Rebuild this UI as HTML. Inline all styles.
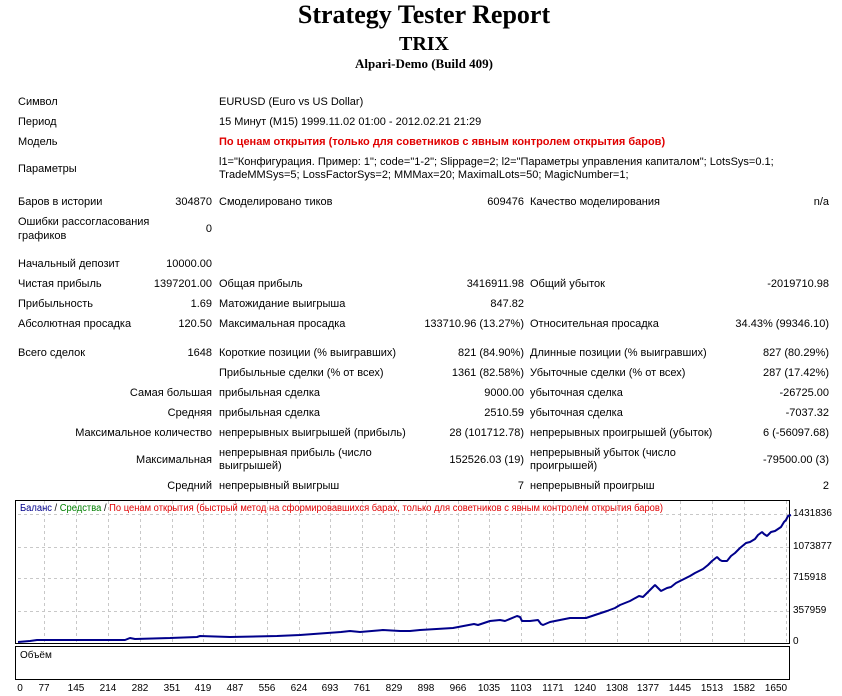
<!DOCTYPE html>
<html><head><meta charset="utf-8">
<style>
body{margin:0;width:842px;height:696px;background:#fff;position:relative;overflow:hidden;font-family:"Liberation Sans","DejaVu Sans",sans-serif;font-size:11px;color:#000}
.t{position:absolute;white-space:nowrap;line-height:13px}
.r{text-align:right}
.h{position:absolute;left:0;width:842px;text-align:center;font-family:"Liberation Serif",serif;font-weight:bold;white-space:nowrap}
</style></head><body>
<div class="h" style="top:0px;font-size:26px;line-height:30px;left:3px">Strategy Tester Report</div>
<div class="h" style="top:32px;font-size:20px;line-height:24px;left:3px">TRIX</div>
<div class="h" style="top:56px;font-size:13px;line-height:16px;left:3px">Alpari-Demo (Build 409)</div>

<div class="t" style="left:18px;top:96px">Символ</div>
<div class="t" style="left:219px;top:96px">EURUSD (Euro vs US Dollar)</div>
<div class="t" style="left:18px;top:116px">Период</div>
<div class="t" style="left:219px;top:116px">15 Минут (M15) 1999.11.02 01:00 - 2012.02.21 21:29</div>
<div class="t" style="left:18px;top:136px">Модель</div>
<div class="t" style="left:219px;top:136px;color:#e00000;font-weight:bold">По ценам открытия (только для советников с явным контролем открытия баров)</div>
<div class="t" style="left:18px;top:163px">Параметры</div>
<div class="t" style="left:219px;top:156px">l1="Конфигурация. Пример: 1"; code="1-2"; Slippage=2; l2="Параметры управления капиталом"; LotsSys=0.1;</div>
<div class="t" style="left:219px;top:169px">TradeMMSys=5; LossFactorSys=2; MMMax=20; MaximalLots=50; MagicNumber=1;</div>

<div class="t" style="left:18px;top:196px">Баров в истории</div>
<div class="t r" style="right:630px;top:196px">304870</div>
<div class="t" style="left:219px;top:196px">Смоделировано тиков</div>
<div class="t r" style="right:318px;top:196px">609476</div>
<div class="t" style="left:530px;top:196px">Качество моделирования</div>
<div class="t r" style="right:13px;top:196px">n/a</div>

<div class="t" style="left:18px;top:216px">Ошибки рассогласования</div>
<div class="t" style="left:18px;top:230px">графиков</div>
<div class="t r" style="right:630px;top:223px">0</div>

<div class="t" style="left:18px;top:258px">Начальный депозит</div>
<div class="t r" style="right:630px;top:258px">10000.00</div>

<div class="t" style="left:18px;top:278px">Чистая прибыль</div>
<div class="t r" style="right:630px;top:278px">1397201.00</div>
<div class="t" style="left:219px;top:278px">Общая прибыль</div>
<div class="t r" style="right:318px;top:278px">3416911.98</div>
<div class="t" style="left:530px;top:278px">Общий убыток</div>
<div class="t r" style="right:13px;top:278px">-2019710.98</div>

<div class="t" style="left:18px;top:298px">Прибыльность</div>
<div class="t r" style="right:630px;top:298px">1.69</div>
<div class="t" style="left:219px;top:298px">Матожидание выигрыша</div>
<div class="t r" style="right:318px;top:298px">847.82</div>

<div class="t" style="left:18px;top:318px">Абсолютная просадка</div>
<div class="t r" style="right:630px;top:318px">120.50</div>
<div class="t" style="left:219px;top:318px">Максимальная просадка</div>
<div class="t r" style="right:318px;top:318px">133710.96 (13.27%)</div>
<div class="t" style="left:530px;top:318px">Относительная просадка</div>
<div class="t r" style="right:13px;top:318px">34.43% (99346.10)</div>

<div class="t" style="left:18px;top:347px">Всего сделок</div>
<div class="t r" style="right:630px;top:347px">1648</div>
<div class="t" style="left:219px;top:347px">Короткие позиции (% выигравших)</div>
<div class="t r" style="right:318px;top:347px">821 (84.90%)</div>
<div class="t" style="left:530px;top:347px">Длинные позиции (% выигравших)</div>
<div class="t r" style="right:13px;top:347px">827 (80.29%)</div>

<div class="t" style="left:219px;top:367px">Прибыльные сделки (% от всех)</div>
<div class="t r" style="right:318px;top:367px">1361 (82.58%)</div>
<div class="t" style="left:530px;top:367px">Убыточные сделки (% от всех)</div>
<div class="t r" style="right:13px;top:367px">287 (17.42%)</div>

<div class="t r" style="right:630px;top:387px">Самая большая</div>
<div class="t" style="left:219px;top:387px">прибыльная сделка</div>
<div class="t r" style="right:318px;top:387px">9000.00</div>
<div class="t" style="left:530px;top:387px">убыточная сделка</div>
<div class="t r" style="right:13px;top:387px">-26725.00</div>

<div class="t r" style="right:630px;top:407px">Средняя</div>
<div class="t" style="left:219px;top:407px">прибыльная сделка</div>
<div class="t r" style="right:318px;top:407px">2510.59</div>
<div class="t" style="left:530px;top:407px">убыточная сделка</div>
<div class="t r" style="right:13px;top:407px">-7037.32</div>

<div class="t r" style="right:630px;top:427px">Максимальное количество</div>
<div class="t" style="left:219px;top:427px">непрерывных выигрышей (прибыль)</div>
<div class="t r" style="right:318px;top:427px">28 (101712.78)</div>
<div class="t" style="left:530px;top:427px">непрерывных проигрышей (убыток)</div>
<div class="t r" style="right:13px;top:427px">6 (-56097.68)</div>

<div class="t r" style="right:630px;top:454px">Максимальная</div>
<div class="t" style="left:219px;top:447px">непрерывная прибыль (число</div>
<div class="t" style="left:219px;top:460px">выигрышей)</div>
<div class="t r" style="right:318px;top:454px">152526.03 (19)</div>
<div class="t" style="left:530px;top:447px">непрерывный убыток (число</div>
<div class="t" style="left:530px;top:460px">проигрышей)</div>
<div class="t r" style="right:13px;top:454px">-79500.00 (3)</div>

<div class="t r" style="right:630px;top:480px">Средний</div>
<div class="t" style="left:219px;top:480px">непрерывный выигрыш</div>
<div class="t r" style="right:318px;top:480px">7</div>
<div class="t" style="left:530px;top:480px">непрерывный проигрыш</div>
<div class="t r" style="right:13px;top:480px">2</div>

<svg style="position:absolute;left:0;top:0" width="842" height="696" font-family="Liberation Sans, DejaVu Sans, sans-serif" font-size="10">
<g stroke="#c8c8c8" stroke-dasharray="3,3" stroke-width="1">
<line x1="18" x2="789" y1="514.5" y2="514.5"/><line x1="18" x2="789" y1="547.5" y2="547.5"/><line x1="18" x2="789" y1="578.5" y2="578.5"/><line x1="18" x2="789" y1="611.5" y2="611.5"/>
<line x1="44.5" x2="44.5" y1="501" y2="643"/><line x1="76.5" x2="76.5" y1="501" y2="643"/><line x1="108.5" x2="108.5" y1="501" y2="643"/><line x1="140.5" x2="140.5" y1="501" y2="643"/><line x1="172.5" x2="172.5" y1="501" y2="643"/><line x1="203.5" x2="203.5" y1="501" y2="643"/><line x1="235.5" x2="235.5" y1="501" y2="643"/><line x1="267.5" x2="267.5" y1="501" y2="643"/><line x1="299.5" x2="299.5" y1="501" y2="643"/><line x1="330.5" x2="330.5" y1="501" y2="643"/><line x1="362.5" x2="362.5" y1="501" y2="643"/><line x1="394.5" x2="394.5" y1="501" y2="643"/><line x1="426.5" x2="426.5" y1="501" y2="643"/><line x1="458.5" x2="458.5" y1="501" y2="643"/><line x1="489.5" x2="489.5" y1="501" y2="643"/><line x1="521.5" x2="521.5" y1="501" y2="643"/><line x1="553.5" x2="553.5" y1="501" y2="643"/><line x1="585.5" x2="585.5" y1="501" y2="643"/><line x1="617.5" x2="617.5" y1="501" y2="643"/><line x1="648.5" x2="648.5" y1="501" y2="643"/><line x1="680.5" x2="680.5" y1="501" y2="643"/><line x1="712.5" x2="712.5" y1="501" y2="643"/><line x1="744.5" x2="744.5" y1="501" y2="643"/><line x1="786.5" x2="786.5" y1="501" y2="643"/>
</g>
<rect x="15.5" y="500.5" width="774" height="143" fill="none" stroke="#000"/>
<rect x="15.5" y="646.5" width="774" height="33" fill="none" stroke="#000"/>
<polyline fill="none" stroke="#00008b" stroke-width="2" stroke-linejoin="bevel" points="18,642 30,641 37,640 125,640 130,638 135,639 170,638 197,637 200,636 230,637 277,636 300,635 341,632 350,631 360,632 383,630 400,631 410,631 420,630 453,628 474,624 478,625 490,621 500,620 505,621 517,616 520,617 522,621 530,621 538,620 541,624 543,625 550,622 560,620 570,618 586,618 595,615 607,611 615,608 620,605 630,601 639,596 643,597 650,590 655,585 659,589 661,591 667,588 671,587 676,583 682,580 690,576 695,573 703,569 708,565 712,561 717,557 720,560 722,561 727,561 731,556 735,553 740,548 746,543 750,542 755,539 758,535 762,532 764,534 767,536 771,532 775,531 778,529 781,527 784,522 786,520 788,516 791,515"/>
<text x="20" y="511" textLength="643" lengthAdjust="spacingAndGlyphs"><tspan fill="#00008b">Баланс</tspan> / <tspan fill="#008000">Средства</tspan> / <tspan fill="#e00000">По ценам открытия (быстрый метод на сформировавшихся барах, только для советников с явным контролем открытия баров)</tspan></text>
<text x="20" y="658">Объём</text>
<g font-size="10">
<text x="793" y="516">1431836</text><text x="793" y="549">1073877</text><text x="793" y="580">715918</text><text x="793" y="613">357959</text><text x="793" y="644">0</text>
</g>
<g font-size="10" text-anchor="middle">
<text x="20" y="691">0</text><text x="44" y="691">77</text><text x="76" y="691">145</text><text x="108" y="691">214</text><text x="140" y="691">282</text><text x="172" y="691">351</text><text x="203" y="691">419</text><text x="235" y="691">487</text><text x="267" y="691">556</text><text x="299" y="691">624</text><text x="330" y="691">693</text><text x="362" y="691">761</text><text x="394" y="691">829</text><text x="426" y="691">898</text><text x="458" y="691">966</text><text x="489" y="691">1035</text><text x="521" y="691">1103</text><text x="553" y="691">1171</text><text x="585" y="691">1240</text><text x="617" y="691">1308</text><text x="648" y="691">1377</text><text x="680" y="691">1445</text><text x="712" y="691">1513</text><text x="744" y="691">1582</text><text x="776" y="691">1650</text>
</g>
</svg>
</body></html>
